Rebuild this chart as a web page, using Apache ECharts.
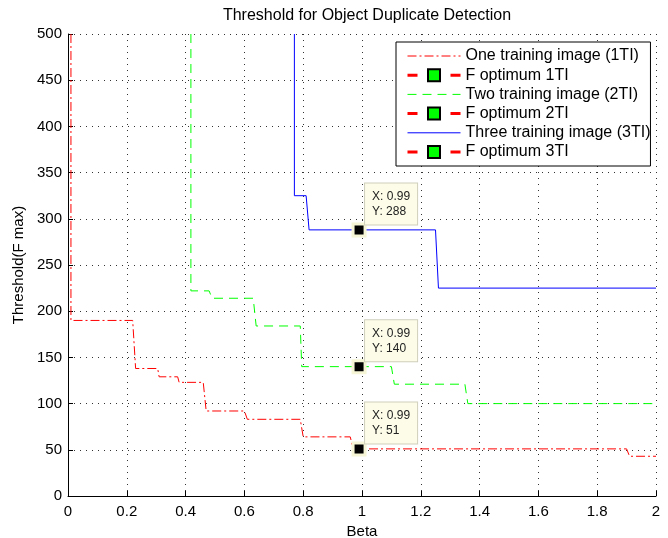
<!DOCTYPE html>
<html>
<head>
<meta charset="utf-8">
<script src="https://cdn.jsdelivr.net/npm/echarts@6/dist/echarts.min.js"></script>
<style>
  html, body { margin: 0; padding: 0; background: #fff; }
  #line-chart { width: 668px; height: 538px; }
</style>
</head>
<body>
<div id="line-chart"></div>
<script>
// step curves: [beta, threshold]
const oneTI = [[0.01, 500], [0.01, 190], [0.22, 190], [0.23, 138], [0.305, 138], [0.31, 129],
  [0.373, 129], [0.378, 123], [0.46, 123], [0.47, 92], [0.60, 92], [0.61, 83], [0.79, 83],
  [0.80, 64], [0.96, 64], [0.97, 51], [1.90, 51], [1.91, 43], [2, 43]]
const twoTI = [[0.418, 500], [0.418, 222], [0.48, 222], [0.49, 214], [0.63, 214], [0.64, 184],
  [0.79, 184], [0.795, 140], [1.10, 140], [1.11, 121], [1.35, 121], [1.36, 100], [2, 100]]
const threeTI = [[0.77, 500], [0.77, 325], [0.81, 325], [0.82, 288], [1.25, 288], [1.26, 225], [2, 225]]

const optBeta = 0.99
const opt1TI = 51
const opt2TI = 140
const opt3TI = 288

const names = ['One training image (1TI)', 'F optimum 1TI', 'Two training image (2TI)',
  'F optimum 2TI', 'Three training image (3TI)', 'F optimum 3TI']

const font = 'Liberation Sans, Arial, Helvetica, sans-serif'

// datatip style marker
function optSeries(name, y) {
  return {
    name: name,
    type: 'line',
    data: [[optBeta, y]],
    symbol: 'rect',
    symbolSize: 12,
    z: 5,
    lineStyle: { color: '#ff0000', width: 3, type: [10, 33] },
    itemStyle: { color: '#000', borderColor: '#f6f6d6', borderWidth: 3 },
    label: {
      show: true,
      position: 'top',
      align: 'left',
      distance: 1,
      offset: [6, 3],
      formatter: 'X: ' + optBeta + '\nY: ' + y,
      fontFamily: font,
      fontSize: 12,
      lineHeight: 15,
      color: '#222',
      backgroundColor: '#fcfce8',
      borderColor: '#cfcfbd',
      borderWidth: 1,
      padding: [6, 7, 5, 7]
    },
    emphasis: { disabled: true }
  }
}

function legendOpt(name) {
  return {
    name: name,
    itemStyle: { color: '#00ff00', borderColor: '#000', borderWidth: 2 },
    lineStyle: { color: '#ff0000', width: 3, type: [10, 33] }
  }
}

function legendLine(name, color, type) {
  return {
    name: name,
    itemStyle: { color: 'rgba(0,0,0,0)', borderWidth: 0 },
    lineStyle: { color: color, width: 1, type: type }
  }
}

let myChart = echarts.init(document.getElementById('line-chart'))

myChart.setOption({
  animation: false,
  title: {
    text: 'Threshold for Object Duplicate Detection',
    left: 362,
    top: 3,
    textAlign: 'center',
    textStyle: { fontFamily: font, fontSize: 16, fontWeight: 'normal', color: '#000' }
  },
  grid: { left: 68, right: 12, top: 34, bottom: 42, outerBoundsMode: 'none' },
  legend: {
    orient: 'vertical',
    left: 396,
    top: 42,
    padding: [6, 0, 6, 10],
    itemWidth: 53,
    itemHeight: 15,
    itemGap: 3.2,
    backgroundColor: '#fff',
    borderColor: '#000',
    borderWidth: 1,
    selectedMode: false,
    textStyle: { fontFamily: font, fontSize: 16, color: '#000' },
    data: [
      legendLine(names[0], '#ff0000', [9, 3, 2, 3]),
      legendOpt(names[1]),
      legendLine(names[2], '#00ff00', [9, 6]),
      legendOpt(names[3]),
      legendLine(names[4], '#0000ff', 'solid'),
      legendOpt(names[5])
    ]
  },
  xAxis: {
    type: 'value',
    min: 0,
    max: 2,
    interval: 0.2,
    name: 'Beta',
    nameLocation: 'middle',
    nameGap: 25,
    nameTextStyle: { fontFamily: font, fontSize: 15, color: '#000' },
    axisLine: { lineStyle: { color: '#000', width: 1 } },
    axisTick: { inside: true, length: 5, lineStyle: { color: '#000' } },
    axisLabel: { fontFamily: font, fontSize: 15, color: '#000', margin: 8 },
    splitLine: { show: true, lineStyle: { color: '#333', width: 1, type: [1, 5] } }
  },
  yAxis: {
    type: 'value',
    min: 0,
    max: 500,
    interval: 50,
    name: 'Threshold(F max)',
    nameLocation: 'middle',
    nameGap: 41,
    nameTextStyle: { fontFamily: font, fontSize: 15, color: '#000' },
    axisLine: { show: true, lineStyle: { color: '#000', width: 1 } },
    axisTick: { show: true, inside: true, length: 5, lineStyle: { color: '#000' } },
    axisLabel: { fontFamily: font, fontSize: 15, color: '#000', margin: 6 },
    splitLine: { show: true, lineStyle: { color: '#333', width: 1, type: [1, 5] } }
  },
  series: [
    {
      name: names[0], type: 'line', data: oneTI, symbol: 'none',
      lineStyle: { color: '#ff0000', width: 1, type: [9, 3, 2, 3] },
      itemStyle: { color: '#ff0000' }
    },
    optSeries(names[1], opt1TI),
    {
      name: names[2], type: 'line', data: twoTI, symbol: 'none',
      lineStyle: { color: '#00ff00', width: 1, type: [9, 6] },
      itemStyle: { color: '#00ff00' }
    },
    optSeries(names[3], opt2TI),
    {
      name: names[4], type: 'line', data: threeTI, symbol: 'none',
      lineStyle: { color: '#0000ff', width: 1 },
      itemStyle: { color: '#0000ff' }
    },
    optSeries(names[5], opt3TI)
  ]
})
</script>
</body>
</html>
